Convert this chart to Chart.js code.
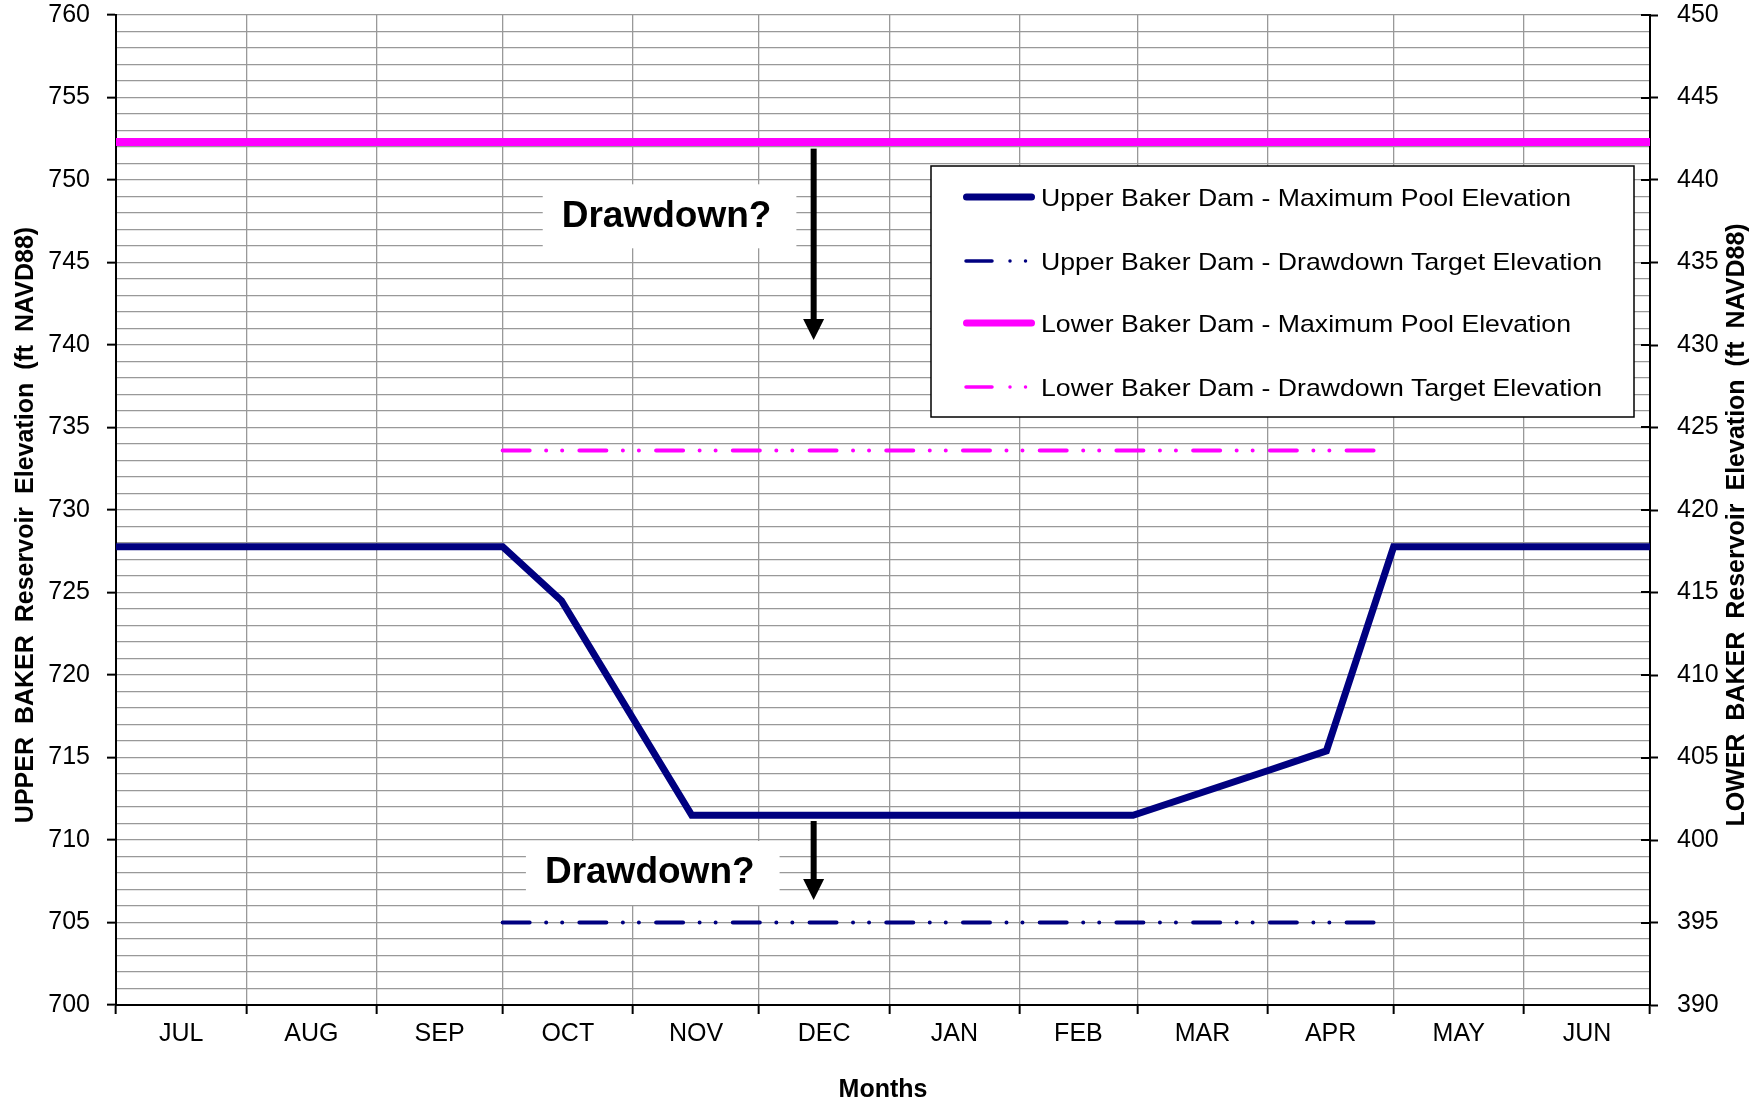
<!DOCTYPE html>
<html>
<head>
<meta charset="utf-8">
<title>Baker Reservoirs - Pool Elevations</title>
<script src="https://cdn.jsdelivr.net/npm/chart.js@4.4.1/dist/chart.umd.min.js"></script>
<style>
  html, body { margin: 0; padding: 0; background: #fff; }
  #wrap { position: relative; width: 1763px; height: 1102px; }
</style>
</head>
<body>
<div id="wrap"><canvas id="chart" width="1763" height="1102"></canvas></div>
<script>
// ---- Data -------------------------------------------------------------
// Water year runs from 1 July; x values are days counted from 1 July.
const monthNames   = ['JUL', 'AUG', 'SEP', 'OCT', 'NOV', 'DEC', 'JAN', 'FEB', 'MAR', 'APR', 'MAY', 'JUN'];
const monthLengths = [31, 31, 30, 31, 30, 31, 31, 28, 31, 30, 31, 30];

// Upper Baker Dam - maximum pool elevation (ft NAVD88, left axis)
const upperPoolDays = [0, 92, 106, 137, 242, 274, 288, 304, 365];
const upperPoolElev = [727.77, 727.77, 724.5, 711.5, 711.5, 714.2, 715.4, 727.77, 727.77];

// Upper Baker Dam - drawdown target elevation (left axis)
const upperTargetDays = [92, 303];
const upperTargetElev = [705, 705];

// Lower Baker Dam - maximum pool elevation (ft NAVD88, right axis)
const lowerPoolDays = [0, 365];
const lowerPoolElev = [442.3, 442.3];

// Lower Baker Dam - drawdown target elevation (right axis)
const lowerTargetDays = [92, 303];
const lowerTargetElev = [423.6, 423.6];

// Axis ranges
const upperAxisRange = [700, 760];
const lowerAxisRange = [390, 450];

// ---- Styling ----------------------------------------------------------
const FONT = "'Liberation Sans', Arial, Helvetica, sans-serif";
const GRID = '#999999';
const NAVY = '#000080';
const MAGENTA = '#FF00FF';
const CLEAR = 'rgba(0,0,0,0)';
const targetDash = [27, 16.5, 0.01, 16, 0.01, 17.2];

// Month boundaries (grid lines) and month centres (labels)
const boundaries = [0];
monthLengths.forEach(n => boundaries.push(boundaries[boundaries.length - 1] + n));
const midpoints = monthLengths.map((n, i) => boundaries[i] + n / 2);
const isBoundary = v => boundaries.indexOf(v) >= 0;

const points = (xs, ys) => xs.map((x, i) => ({ x: x, y: ys[i] }));
const unitTicks = (lo, hi) => { const t = []; for (let v = lo; v <= hi; v++) t.push({ value: v }); return t; };

// "Drawdown?" callouts, placed in axis units (days / left-axis feet)
const callouts = [
  { text: 'Drawdown?', textDay: 131, textElev: 747.8, arrowDay: 166, arrowFrom: 751.9, arrowTo: 740.3 },
  { text: 'Drawdown?', textDay: 127, textElev: 708.0, arrowDay: 166, arrowFrom: 711.15, arrowTo: 706.36 }
];

// Legend frame and rows (canvas pixels)
const legendFrame = {
  left: 931, top: 166, right: 1634, bottom: 417,
  rows: [197, 261, 323, 387],
  solidX: [966.5, 1031.5], dashX: [966, 1028],
  textX: 1041, textWidth: 530
};

// ---- Decorations: callouts, legend, axis titles -------------------------
const bakerDecor = {
  id: 'bakerDecor',
  afterDatasetsDraw(chart) {
    const { ctx, scales } = chart;
    const x = scales.x, yU = scales.yUpper, yL = scales.yLower;
    ctx.save();

    // inner half of the right-axis major tick marks
    ctx.strokeStyle = '#000';
    ctx.lineWidth = 2;
    yL.ticks.forEach(t => {
      if (t.value % 5 === 0) {
        const py = Math.round(yL.getPixelForValue(t.value));
        ctx.beginPath();
        ctx.moveTo(yL.left - 9, py);
        ctx.lineTo(yL.left, py);
        ctx.stroke();
      }
    });

    // callouts
    callouts.forEach(c => {
      ctx.font = 'bold 37px ' + FONT;
      const tx = x.getPixelForValue(c.textDay);
      const ty = yU.getPixelForValue(c.textElev);
      const w = ctx.measureText(c.text).width;
      ctx.fillStyle = '#fff';
      ctx.fillRect(tx - w / 2 - 19, ty - 32, w + 44, 64);
      ctx.fillStyle = '#000';
      ctx.textAlign = 'center';
      ctx.textBaseline = 'middle';
      ctx.fillText(c.text, tx, ty);

      const ax = x.getPixelForValue(c.arrowDay);
      const y0 = yU.getPixelForValue(c.arrowFrom);
      const y1 = yU.getPixelForValue(c.arrowTo);
      const head = 21;
      ctx.fillRect(ax - 3, y0, 6, y1 - y0 - head + 1);
      ctx.beginPath();
      ctx.moveTo(ax - 10.5, y1 - head);
      ctx.lineTo(ax + 10.5, y1 - head);
      ctx.lineTo(ax, y1);
      ctx.closePath();
      ctx.fill();
    });

    // legend
    const L = legendFrame;
    ctx.fillStyle = '#fff';
    ctx.fillRect(L.left, L.top, L.right - L.left, L.bottom - L.top);
    ctx.strokeStyle = '#000';
    ctx.lineWidth = 1.5;
    ctx.strokeRect(L.left, L.top, L.right - L.left, L.bottom - L.top);

    ctx.font = '24px ' + FONT;
    const firstWidth = ctx.measureText(chart.data.datasets[0].label).width;
    const stretch = L.textWidth / firstWidth;

    chart.data.datasets.forEach((ds, i) => {
      const yy = L.rows[i];
      ctx.strokeStyle = ds.borderColor;
      ctx.lineCap = 'round';
      ctx.beginPath();
      if (ds.borderDash) {
        ctx.lineWidth = 3.5;
        ctx.setLineDash([26, 18, 0.01, 15.5, 0.01, 100]);
        ctx.moveTo(L.dashX[0], yy);
        ctx.lineTo(L.dashX[1], yy);
      } else {
        ctx.lineWidth = 7;
        ctx.setLineDash([]);
        ctx.moveTo(L.solidX[0], yy);
        ctx.lineTo(L.solidX[1], yy);
      }
      ctx.stroke();
      ctx.setLineDash([]);

      ctx.save();
      ctx.fillStyle = '#000';
      ctx.textAlign = 'left';
      ctx.textBaseline = 'middle';
      ctx.translate(L.textX, yy + 2.5);
      ctx.scale(stretch, 1);
      ctx.fillText(ds.label, 0, 0);
      ctx.restore();
    });
    ctx.restore();
  },
  afterDraw(chart) {
    const { ctx, chartArea } = chart;
    const cy = (chartArea.top + chartArea.bottom) / 2 + 15;
    ctx.save();
    ctx.font = 'bold 25px ' + FONT;
    ctx.fillStyle = '#000';
    ctx.textAlign = 'center';
    ctx.textBaseline = 'middle';
    if ('wordSpacing' in ctx) ctx.wordSpacing = '6px';
    const vertical = (text, px) => {
      ctx.save();
      ctx.translate(px, cy);
      ctx.rotate(-Math.PI / 2);
      ctx.fillText(text, 0, 0);
      ctx.restore();
    };
    vertical('UPPER BAKER Reservoir Elevation (ft NAVD88)', 26.5);
    vertical('LOWER BAKER Reservoir Elevation (ft NAVD88)', chart.width - 26);
    ctx.restore();
  }
};

// vertical axes: label overhang should not push the plot area inward
const fitVertical = width => scale => {
  scale.width = width;
  scale.paddingTop = 0;
  scale.paddingBottom = 0;
};

// ---- Chart --------------------------------------------------------------
Chart.defaults.color = '#000';
Chart.defaults.font.family = FONT;

new Chart(document.getElementById('chart'), {
  type: 'line',
  data: {
    datasets: [
      {
        label: 'Upper Baker Dam - Maximum Pool Elevation',
        data: points(upperPoolDays, upperPoolElev),
        yAxisID: 'yUpper',
        borderColor: NAVY, backgroundColor: NAVY,
        borderWidth: 7, pointRadius: 0, tension: 0
      },
      {
        label: 'Upper Baker Dam - Drawdown Target Elevation',
        data: points(upperTargetDays, upperTargetElev),
        yAxisID: 'yUpper',
        borderColor: NAVY, backgroundColor: NAVY,
        borderWidth: 4, borderDash: targetDash, borderCapStyle: 'round', pointRadius: 0
      },
      {
        label: 'Lower Baker Dam - Maximum Pool Elevation',
        data: points(lowerPoolDays, lowerPoolElev),
        yAxisID: 'yLower',
        borderColor: MAGENTA, backgroundColor: MAGENTA,
        borderWidth: 8, pointRadius: 0
      },
      {
        label: 'Lower Baker Dam - Drawdown Target Elevation',
        data: points(lowerTargetDays, lowerTargetElev),
        yAxisID: 'yLower',
        borderColor: MAGENTA, backgroundColor: MAGENTA,
        borderWidth: 4, borderDash: targetDash, borderCapStyle: 'round', pointRadius: 0
      }
    ]
  },
  options: {
    responsive: false,
    animation: false,
    devicePixelRatio: 1,
    layout: { padding: { top: 15, left: 0, right: 0, bottom: 0 } },
    plugins: {
      legend: { display: false },
      tooltip: { enabled: false }
    },
    scales: {
      x: {
        type: 'linear',
        min: 0, max: 365,
        afterBuildTicks(scale) {
          scale.ticks = boundaries.concat(midpoints).sort((a, b) => a - b).map(v => ({ value: v }));
        },
        afterFit(scale) { scale.height = 97; scale.paddingLeft = 0; scale.paddingRight = 0; },
        ticks: {
          autoSkip: false, maxRotation: 0, minRotation: 0, padding: 5,
          font: { family: FONT, size: 25 }, color: '#000',
          callback(v) { const i = midpoints.indexOf(v); return i >= 0 ? monthNames[i] : ''; }
        },
        grid: {
          color: c => (c.tick && isBoundary(c.tick.value)) ? GRID : CLEAR,
          lineWidth: 1.3,
          tickLength: 9,
          tickWidth: 2,
          tickColor: c => (c.tick && isBoundary(c.tick.value)) ? '#000' : CLEAR
        },
        border: { color: '#000', width: 2 },
        title: {
          display: true, text: 'Months', color: '#000',
          font: { family: FONT, size: 25, weight: 'bold' },
          padding: { top: 0, bottom: -3 }
        }
      },
      yUpper: {
        type: 'linear', position: 'left',
        min: upperAxisRange[0], max: upperAxisRange[1],
        afterBuildTicks(scale) { scale.ticks = unitTicks(upperAxisRange[0], upperAxisRange[1]); },
        afterFit: fitVertical(116),
        ticks: {
          autoSkip: false, padding: 17,
          font: { family: FONT, size: 25, lineHeight: 1.1 }, color: '#000',
          callback: v => (v % 5 === 0 ? String(v) : '')
        },
        grid: {
          color: GRID, lineWidth: 1.3, tickLength: 9, tickWidth: 2,
          tickColor: c => (c.tick && c.tick.value % 5 === 0) ? '#000' : CLEAR
        },
        border: { color: '#000', width: 2 }
      },
      yLower: {
        type: 'linear', position: 'right',
        min: lowerAxisRange[0], max: lowerAxisRange[1],
        afterBuildTicks(scale) { scale.ticks = unitTicks(lowerAxisRange[0], lowerAxisRange[1]); },
        afterFit: fitVertical(113),
        ticks: {
          autoSkip: false, padding: 19,
          font: { family: FONT, size: 25, lineHeight: 1.1 }, color: '#000',
          callback: v => (v % 5 === 0 ? String(v) : '')
        },
        grid: {
          drawOnChartArea: false, tickLength: 8, tickWidth: 2,
          tickColor: c => (c.tick && c.tick.value % 5 === 0) ? '#000' : CLEAR
        },
        border: { color: '#000', width: 2 }
      }
    }
  },
  plugins: [bakerDecor]
});
</script>
</body>
</html>
